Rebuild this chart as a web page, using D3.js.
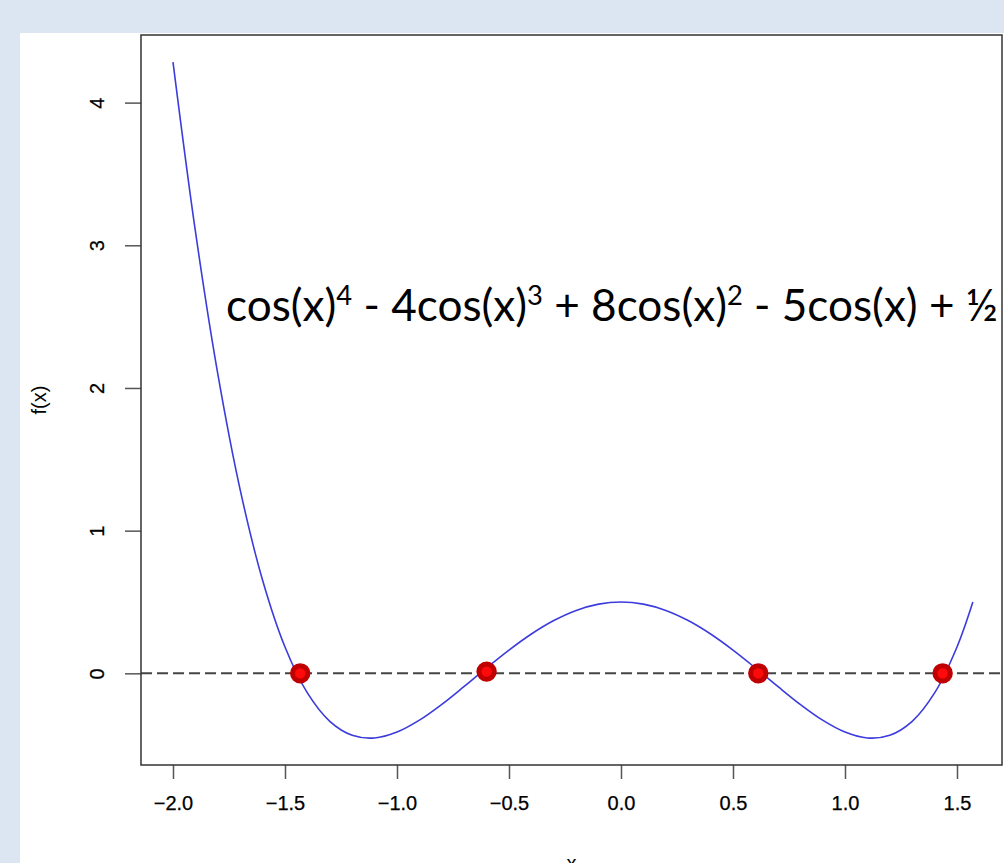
<!DOCTYPE html>
<html>
<head>
<meta charset="utf-8">
<script src="https://cdn.jsdelivr.net/npm/d3@7"></script>
<style>
  body { margin: 0; background: #dce6f2; }
  svg { display: block; }
</style>
</head>
<body>
<div id="chart"></div>
<script>
// curve samples
const curveX = [-2.0, -1.9, -1.8, -1.7, -1.6, -1.5, -1.4, -1.3, -1.2, -1.1, -1.0,
  -0.9, -0.8, -0.7, -0.6, -0.5, -0.4, -0.3, -0.2, -0.1, 0.0,
  0.1, 0.2, 0.3, 0.4, 0.5, 0.6, 0.7, 0.8, 0.9, 1.0,
  1.1, 1.2, 1.3, 1.4, 1.5, 1.5708]
const curveY = [4.2844, 3.0987, 2.0986, 1.2859, 0.6529, 0.1850, -0.1375, -0.3365, -0.4344, -0.4530, -0.4118,
  -0.3283, -0.2174, -0.0918, 0.0379, 0.1630, 0.2757, 0.3700, 0.4410, 0.4851, 0.5,
  0.4851, 0.4410, 0.3700, 0.2757, 0.1630, 0.0379, -0.0918, -0.2174, -0.3283, -0.4118,
  -0.4530, -0.4344, -0.3365, -0.1375, 0.1850, 0.5]

// red points (roots)
const rootX = [-1.432, -0.600, 0.613, 1.436]
const rootY = [0, 0.012, 0, 0]

const xTicks = [-2.0, -1.5, -1.0, -0.5, 0.0, 0.5, 1.0, 1.5]
const yTicks = [0, 1, 2, 3, 4]

const width = 1004
const height = 863
const box = { left: 141, right: 1002, top: 35, bottom: 765 }

const svg = d3.select("#chart")
  .append("svg")
    .attr("width", width)
    .attr("height", height)

svg.append("rect")
  .attr("width", width)
  .attr("height", height)
  .attr("fill", "#dce6f2")

svg.append("rect")
  .attr("x", 20)
  .attr("y", 33)
  .attr("width", width - 20)
  .attr("height", height - 33)
  .attr("fill", "#ffffff")

// R style 4% padding on the data range
const xPad = (1.5708 + 2) * 0.04
const yPad = (4.2844 + 0.4530) * 0.04

const xScale = d3.scaleLinear()
  .domain([-2 - xPad, 1.5708 + xPad])
  .range([box.left, box.left + (1.5708 + 2 + 2 * xPad) * 224])

const yScale = d3.scaleLinear()
  .domain([-0.4530 - yPad, 4.2844 + yPad])
  .range([box.bottom, box.top])

const fmt = d3.format(".1f")

// axes
const xAxis = svg.append("g")
  .attr("transform", `translate(0, ${box.bottom})`)
  .call(d3.axisBottom(xScale).tickValues(xTicks).tickFormat(fmt).tickSize(14).tickPadding(17))
xAxis.select(".domain").remove()
xAxis.selectAll("line").attr("stroke", "#555").attr("stroke-width", 1.5)
xAxis.selectAll("text")
  .attr("font-family", "Liberation Sans, Arial, sans-serif")
  .attr("font-size", 20)
  .attr("fill", "#000")
  .attr("stroke", "#000")
  .attr("stroke-width", 0.25)

const yAxis = svg.append("g")
  .attr("transform", `translate(${box.left}, 0)`)
  .call(d3.axisLeft(yScale).tickValues(yTicks).tickFormat(d3.format("d")).tickSize(16))
yAxis.select(".domain").remove()
yAxis.selectAll("line").attr("stroke", "#555").attr("stroke-width", 1.5)
yAxis.selectAll("text")
  .attr("x", null)
  .attr("dy", null)
  .attr("font-family", "Liberation Sans, Arial, sans-serif")
  .attr("font-size", 20)
  .attr("fill", "#000")
  .attr("stroke", "#000")
  .attr("stroke-width", 0.25)
  .attr("text-anchor", "middle")
  .attr("transform", "translate(-37, 0) rotate(-90)")
  .attr("y", 0)

// axis titles
svg.append("text")
  .attr("transform", `translate(46, ${(box.top + box.bottom) / 2}) rotate(-90)`)
  .attr("text-anchor", "middle")
  .attr("font-family", "Liberation Sans, Arial, sans-serif")
  .attr("font-size", 20)
  .text("f(x)")

svg.append("text")
  .attr("x", (box.left + box.right) / 2)
  .attr("y", 870)
  .attr("text-anchor", "middle")
  .attr("font-family", "Liberation Sans, Arial, sans-serif")
  .attr("font-size", 20)
  .text("x")

// zero line
svg.append("line")
  .attr("x1", box.left)
  .attr("x2", box.right)
  .attr("y1", yScale(0))
  .attr("y2", yScale(0))
  .attr("stroke", "#444")
  .attr("stroke-width", 2)
  .attr("stroke-dasharray", "11,5")

// function curve
const line = d3.line()
  .x((d, i) => xScale(curveX[i]))
  .y(d => yScale(d))
  .curve(d3.curveCatmullRom.alpha(0.5))

svg.append("path")
  .attr("d", line(curveY))
  .attr("fill", "none")
  .attr("stroke", "#3c3cdc")
  .attr("stroke-width", 1.6)

// roots
svg.selectAll("circle.root")
  .data(rootX)
  .enter()
  .append("circle")
    .attr("class", "root")
    .attr("cx", d => xScale(d))
    .attr("cy", (d, i) => yScale(rootY[i]))
    .attr("r", 7.7)
    .attr("fill", "#ff0a0a")
    .attr("stroke", "#c00000")
    .attr("stroke-width", 5)

// box
svg.append("rect")
  .attr("x", box.left)
  .attr("y", box.top)
  .attr("width", box.right - box.left)
  .attr("height", box.bottom - box.top)
  .attr("fill", "none")
  .attr("stroke", "#333")
  .attr("stroke-width", 1.5)

// formula label
const label = svg.append("text")
  .attr("x", 226)
  .attr("y", 321)
  .attr("font-family", "Lato, Open Sans, sans-serif")
  .attr("font-size", 40)
  .attr("fill", "#000")

const parts = [
  ["cos(x)", false], ["4", true], [" - 4cos(x)", false], ["3", true],
  [" + 8cos(x)", false], ["2", true], [" - 5cos(x) + ½", false]
]
parts.forEach(([t, sup]) => {
  label.append("tspan")
    .attr("font-size", sup ? "0.62em" : null)
    .attr("baseline-shift", sup ? "super" : null)
    .text(t)
})

// fit the formula to the width it takes in the picture
const w = label.node().getComputedTextLength()
label.attr("font-size", 40 * 772 / w)
</script>
</body>
</html>
